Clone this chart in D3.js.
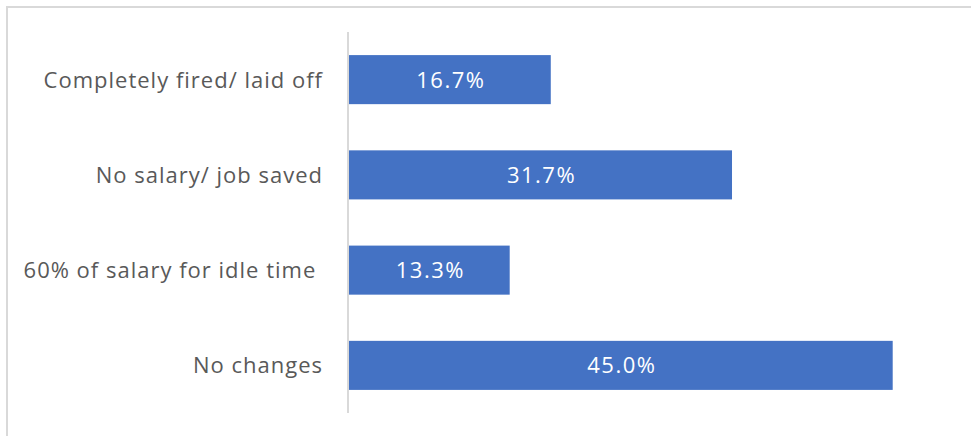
<!DOCTYPE html>
<html><head><meta charset="utf-8">
<script src="https://cdn.jsdelivr.net/npm/d3@7"></script>
<style>body{margin:0;background:#fff}svg{display:block}text{white-space:pre}</style>
</head><body>
<script>
const categories = ["Completely fired/ laid off", "No salary/ job saved", "60% of salary for idle time ", "No changes"];
const values = [16.7, 31.7, 13.3, 45.0];
const valueLabels = ["16.7%", "31.7%", "13.3%", "45.0%"];

const W = 971, H = 436;
const svg = d3.select("body").append("svg").attr("width", W).attr("height", H);
svg.append("path").attr("d", `M7,${H} L7,7 L${W},7`).attr("fill", "none").attr("stroke", "#d9d9d9").attr("stroke-width", 2);

const x0 = 349, plotTop = 32, plotBottom = 413;
const x = d3.scaleLinear().domain([0, 45]).range([x0, 892.7]);
const y = d3.scaleBand().domain(categories).range([plotTop, plotBottom]).paddingInner(0.485).paddingOuter(0.2425);

svg.selectAll("rect.bar").data(values).enter().append("rect")
  .attr("x", x(0)).attr("y", (d, i) => y(categories[i]))
  .attr("width", d => x(d) - x(0)).attr("height", y.bandwidth())
  .attr("fill", "#4472c4");

svg.append("line").attr("x1", 348).attr("x2", 348).attr("y1", plotTop).attr("y2", plotBottom)
  .attr("stroke", "#d9d9d9").attr("stroke-width", 2);

svg.selectAll("text.cat").data(categories).enter().append("text")
  .attr("x", 323).attr("y", d => y(d) + y.bandwidth() / 2 - 1)
  .attr("text-anchor", "end").attr("dominant-baseline", "central")
  .attr("font-family", "Open Sans, sans-serif").attr("font-size", 22).attr("letter-spacing", 1).attr("fill", "#595959")
  .text(d => d);

svg.selectAll("text.val").data(values).enter().append("text")
  .attr("x", d => (x(0) + x(d)) / 2 + 1).attr("y", (d, i) => y(categories[i]) + y.bandwidth() / 2 - 1)
  .attr("text-anchor", "middle").attr("dominant-baseline", "central")
  .attr("font-family", "Open Sans, sans-serif").attr("font-size", 22).attr("letter-spacing", 1.5).attr("fill", "#ffffff")
  .text((d, i) => valueLabels[i]);
</script>
</body></html>
